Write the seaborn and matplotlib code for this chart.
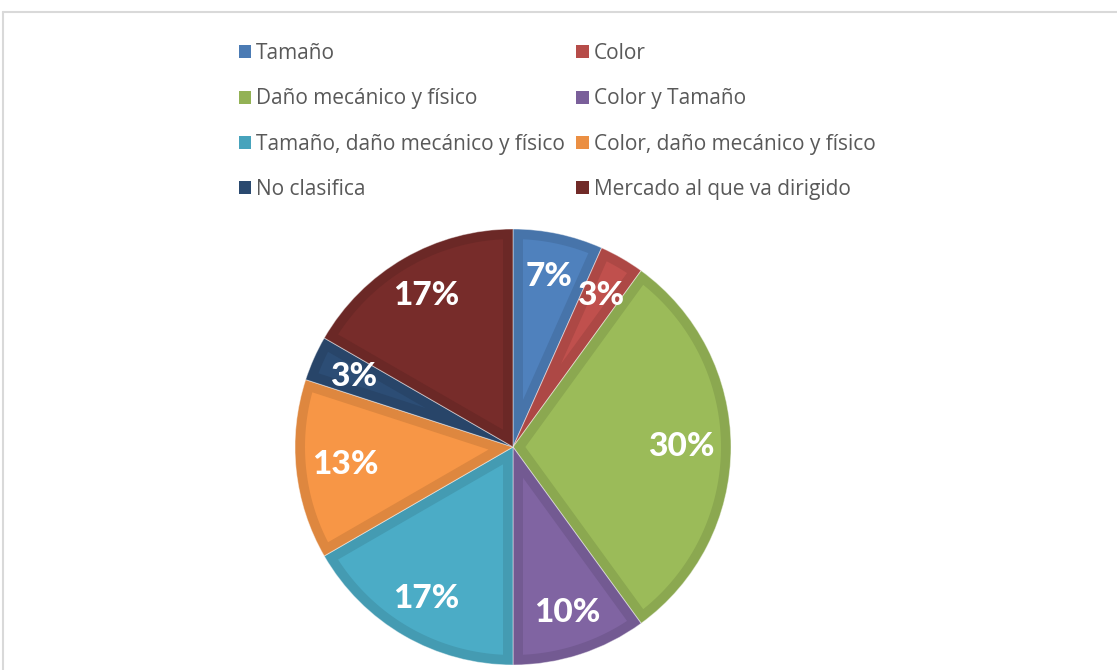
import matplotlib
matplotlib.use("Agg")
import numpy as np
import matplotlib.pyplot as plt
import matplotlib.colors as mcolors
from matplotlib.patches import Patch, Polygon
from matplotlib.lines import Line2D
import seaborn as sns

# counts behind the percentages (out of 30)
categorias = ["Tamaño", "Color", "Daño mecánico y físico", "Color y Tamaño",
              "Tamaño, daño mecánico y físico", "Color, daño mecánico y físico",
              "No clasifica", "Mercado al que va dirigido"]
conteos = [2, 1, 9, 3, 5, 4, 1, 5]
colores = ["#4F81BD", "#C0504D", "#9BBB59", "#8064A2",
           "#4BACC6", "#F79646", "#2C4D75", "#772C2A"]

sns.set_style("white")
plt.rcParams["font.family"] = ["Lato", "DejaVu Sans"]


def oscurecer(c, f=0.9):
    r, g, b = mcolors.to_rgb(c)
    return (r * f, g * f, b * f)


def cuna_interior(w, d):
    # wedge shrunk inward by d on all sides
    t1, t2 = np.radians(w.theta1), np.radians(w.theta2)
    R = w.r
    cx0, cy0 = w.center
    mid = (t1 + t2) / 2
    half = (t2 - t1) / 2
    apex = d / np.sin(half)
    phi = np.arcsin(d / (R - d))
    ang = np.linspace(t1 + phi, t2 - phi, 60)
    pts = [(cx0 + apex * np.cos(mid), cy0 + apex * np.sin(mid))]
    pts += [(cx0 + (R - d) * np.cos(a), cy0 + (R - d) * np.sin(a)) for a in ang]
    return np.array(pts)


W, H = 1117, 670
fig = plt.figure(figsize=(W / 100, H / 100), dpi=100)

# chart frame (light grey, runs off the right/bottom edge)
fig.add_artist(Line2D([3 / W, 1.0], [1 - 12 / H] * 2, color="#D9D9D9", lw=1.5))
fig.add_artist(Line2D([3 / W] * 2, [0.0, 1 - 12 / H], color="#D9D9D9", lw=1.5))

# pie axes
cx, cy, r = 513, 447, 218
lim = 1.05
half = r * lim
ax = fig.add_axes([(cx - half) / W, (H - cy - half) / H, 2 * half / W, 2 * half / H])
wedges, textos, autotextos = ax.pie(
    conteos, colors=[oscurecer(c, 0.9) for c in colores], startangle=90,
    counterclock=False, autopct=lambda p: f"{p:.0f}%", pctdistance=0.8,
    textprops=dict(color="white", fontsize=24, fontweight=900),
    wedgeprops=dict(linewidth=0.7, edgecolor=(1, 1, 1, 0.45)))

# lighter inner face on each slice, leaving a darker band at the edges
for w, c in zip(wedges, colores):
    ax.add_patch(Polygon(cuna_interior(w, 10 / r), closed=True,
                         facecolor=c, edgecolor="none", zorder=w.get_zorder() + 0.1))
for t in autotextos:
    t.set_zorder(5)
autotextos[2].set_position((0.77, 0.0))
autotextos[5].set_position((-0.775 * np.cos(np.radians(6)), -0.775 * np.sin(np.radians(6))))

ax.set_xlim(-lim, lim)
ax.set_ylim(-lim, lim)
ax.set_aspect("equal")
ax.axis("off")

# legend, filled row by row in two columns
orden = [0, 2, 4, 6, 1, 3, 5, 7]
handles = [Patch(facecolor=oscurecer(colores[i], 0.95), edgecolor="none") for i in orden]
labels = [categorias[i] for i in orden]
fig.legend(handles, labels, ncol=2, loc="upper left",
           bbox_to_anchor=(239 / W, 1 - 43 / H), frameon=False,
           prop=dict(family="Open Sans", size=15), labelcolor="#595959",
           borderpad=0, borderaxespad=0,
           handlelength=0.58, handleheight=0.58, handletextpad=0.24,
           columnspacing=0.55, labelspacing=1.17)

fig.savefig("out.png", dpi=100)
